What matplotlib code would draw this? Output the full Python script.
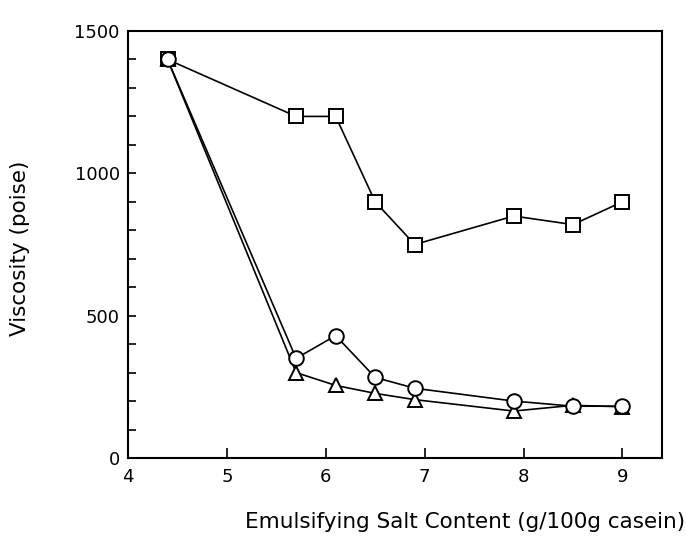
import matplotlib
matplotlib.use("Agg")
import matplotlib.pyplot as plt
import numpy as np

# emulsifying salt content (g/100g casein)
salt = [4.4, 5.7, 6.1, 6.5, 6.9, 7.9, 8.5, 9.0]

# viscosity (poise) for the three series
visc_square = [1400, 1200, 1200, 900, 750, 850, 820, 900]
visc_circle = [1400, 350, 430, 283, 245, 200, 182, 182]
visc_triangle = [1400, 300, 255, 227, 205, 165, 185, 180]

x_ticks = [4, 5, 6, 7, 8, 9]
y_labels = [0, 500, 1000, 1500]

plt.rcParams['font.family'] = ['DejaVu Sans']

fig = plt.figure(figsize=(6.86, 5.47), dpi=100)
ax = fig.add_axes([0.1866, 0.1627, 0.965 - 0.1866, 0.9433 - 0.1627])

style = dict(color='black', linewidth=1.2, markerfacecolor='white',
             markeredgecolor='black', markeredgewidth=1.4)
ax.plot(salt, visc_square, marker='s', markersize=9.5, zorder=3, **style)
ax.plot(salt, visc_triangle, marker='^', markersize=10.5, zorder=4, **style)
ax.plot(salt, visc_circle, marker='o', markersize=10.5, zorder=5, **style)

ax.set_xlim(4, 9.4)
ax.set_ylim(0, 1500)

ax.set_xticks(x_ticks)
ax.set_xticklabels([str(t) for t in x_ticks])
ax.set_yticks(np.arange(0, 1501, 100))
ax.set_yticklabels([str(v) if v in y_labels else '' for v in np.arange(0, 1501, 100)])

ax.tick_params(direction='in', length=7, width=1.2, labelsize=13, pad=7)
ax.tick_params(axis='y', length=6, pad=6)
for side in ax.spines.values():
    side.set_linewidth(1.5)

fig.text(20 / 686, 1 - 248 / 547, "Viscosity (poise)", rotation=90,
         ha='center', va='center', fontsize=15.5)
fig.text(465 / 686, 1 - 522 / 547, "Emulsifying Salt Content (g/100g casein)",
         ha='center', va='center', fontsize=15.5)

fig.savefig("out.png", dpi=100)
